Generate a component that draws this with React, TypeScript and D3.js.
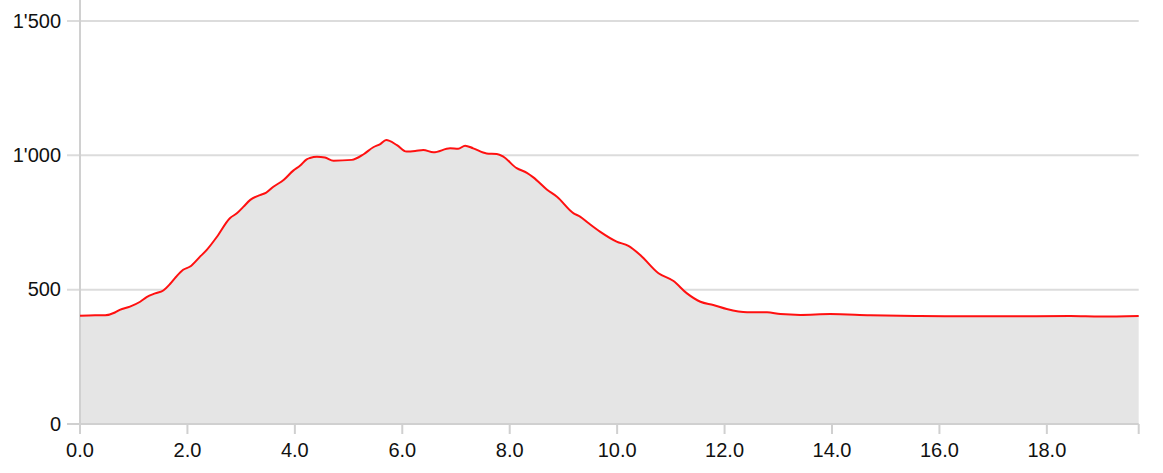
import React from "react";
import * as d3 from "d3";

const distances = [
  0.0, 0.28, 0.47, 0.65, 0.74, 0.93, 1.12, 1.24, 1.4, 1.55, 1.68, 1.79, 1.92, 2.05, 2.23, 2.36, 2.55,
  2.79, 2.92, 3.04, 3.17, 3.35, 3.46, 3.6, 3.79, 3.97, 4.1, 4.22, 4.28, 4.41, 4.56, 4.72, 5.06, 5.28,
  5.46, 5.59, 5.7, 5.9, 6.08, 6.24, 6.39, 6.58, 6.89, 7.04, 7.17, 7.32, 7.57, 7.76, 7.88, 8.13, 8.32,
  8.44, 8.69, 8.88, 9.19, 9.31, 9.47, 9.68, 9.99, 10.21, 10.43, 10.77, 11.05, 11.3, 11.55, 11.79,
  12.04, 12.42, 12.79, 13.04, 13.41, 13.97, 14.71, 15.64, 16.57, 17.5, 18.44, 19.0, 19.71,
];
const elevations = [
  403, 405, 405, 415, 425, 437, 455, 472, 486, 497, 522, 548, 574, 586, 622, 648, 697,
  766, 784, 808, 834, 852, 860, 883, 908, 943, 962, 985, 990, 995, 992, 980, 983, 1004,
  1030, 1042, 1057, 1038, 1014, 1016, 1020, 1011, 1026, 1024, 1036, 1026, 1007, 1005, 995, 952, 935,
  918, 873, 846, 784, 772, 747, 716, 679, 663, 629, 561, 532, 486, 455, 443,
  428, 416, 416, 409, 406, 409, 405, 402, 401, 401, 402, 400, 402,
];
const xTicks = [0, 2, 4, 6, 8, 10, 12, 14, 16, 18];
const yTicks = [0, 500, 1000, 1500];

const W = 1163;
const H = 473;
const left = 80;
const right = 1138.7;
const bottom = 424;
const top = 0;

const locale = d3.formatLocale({ decimal: ".", thousands: "'", grouping: [3], currency: ["", ""] });
const fmtY = locale.format(",d");
const fmtX = d3.format(".1f");

export default function App() {
  const data = distances.map((d, i) => ({ d, v: elevations[i] }));
  const x = d3.scaleLinear().domain([0, 19.71]).range([left, right]);
  const y = d3.scaleLinear().domain([0, 1578]).range([bottom, top]);
  const area = d3
    .area<{ d: number; v: number }>()
    .x((p) => x(p.d))
    .y0(y(0))
    .y1((p) => y(p.v))
    .curve(d3.curveMonotoneX);
  const line = d3
    .line<{ d: number; v: number }>()
    .x((p) => x(p.d))
    .y((p) => y(p.v))
    .curve(d3.curveMonotoneX);
  const font = "'Liberation Sans', Arial, Helvetica, sans-serif";
  return (
    <svg
      width={W}
      height={H}
      style={{ position: "absolute", left: 0, top: 0, background: "#fff" }}
    >
      {yTicks.slice(1).map((t) => (
        <line key={t} x1={left - 13} x2={right} y1={y(t)} y2={y(t)} stroke="#dcdcdc" strokeWidth={2} />
      ))}
      <path d={area(data) || ""} fill="#e5e5e5" />
      <line x1={left} x2={left} y1={0} y2={bottom + 10} stroke="#d0d0d0" strokeWidth={2} />
      <line x1={left - 13} x2={right} y1={bottom} y2={bottom} stroke="#d0d0d0" strokeWidth={2} />
      {xTicks.map((t) => (
        <line key={t} x1={x(t)} x2={x(t)} y1={bottom} y2={bottom + 10} stroke="#d0d0d0" strokeWidth={2} />
      ))}
      <line x1={right} x2={right} y1={bottom} y2={bottom + 10} stroke="#d0d0d0" strokeWidth={2} />
      <path d={line(data) || ""} fill="none" stroke="#ff1010" strokeWidth={2} />
      {yTicks.map((t) => (
        <text
          key={t}
          x={61}
          y={y(t)}
          dy="0.34em"
          textAnchor="end"
          fontFamily={font}
          fontSize={20}
          fill="#111"
        >
          {fmtY(t)}
        </text>
      ))}
      {xTicks.map((t) => (
        <text
          key={t}
          x={x(t)}
          y={457}
          textAnchor="middle"
          fontFamily={font}
          fontSize={20}
          fill="#111"
        >
          {fmtX(t)}
        </text>
      ))}
    </svg>
  );
}
